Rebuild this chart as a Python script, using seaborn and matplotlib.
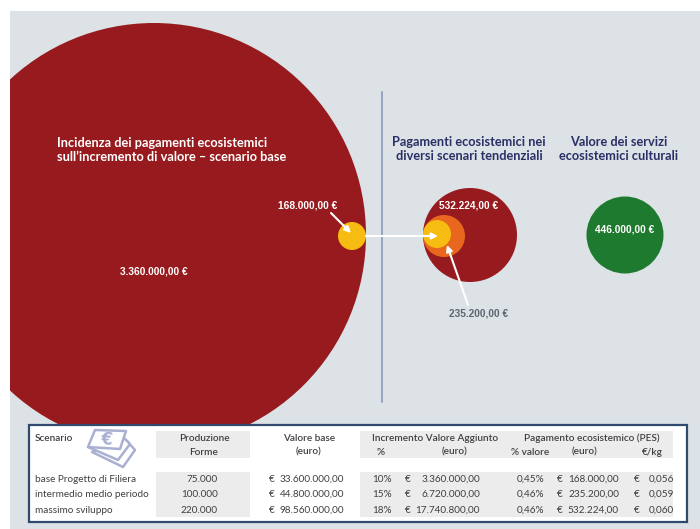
import matplotlib
matplotlib.use('Agg')
import matplotlib.pyplot as plt
import matplotlib.patches as mpatches
import pandas as pd
import seaborn as sns

# valori dei cerchi
circle_names = ['incremento base', 'scenario massimo', 'scenario medio', 'scenario base', 'PES base', 'servizi culturali']
circle_values = [3360000.00, 532224.00, 235200.00, 168000.00, 168000.00, 446000.00]
circle_colors = ['#971b1e', '#971b1e', '#e8661d', '#f7bc12', '#f7bc12', '#1e7a2e']

# tabella
scenarios = ['base Progetto di Filiera', 'intermedio medio periodo', 'massimo sviluppo']
produzione = ['75.000', '100.000', '220.000']
valore_base = ['33.600.000,00', '44.800.000,00', '98.560.000,00']
incr_pct = ['10%', '15%', '18%']
incr_euro = ['3.360.000,00', '6.720.000,00', '17.740.800,00']
pes_pct = ['0,45%', '0,46%', '0,46%']
pes_euro = ['168.000,00', '235.200,00', '532.224,00']
pes_kg = ['0,056', '0,059', '0,060']

# layout in pixel
cx = [154, 470, 444, 437, 352, 625]
cy = [235, 235, 236, 234, 236, 235]
radii = [212, 47, 21, 14, 14, 38.5]

BG = '#dce2e6'
NAVY = '#2a2f66'
TABLE_FONT = 'Lato'
TITLE_FONT = 'Lato'
NUM_FONT = 'Liberation Sans'
NUM_SIZE = 7.3
TITLE_SIZE = 9.2

sns.set_theme(style='white')
fig = plt.figure(figsize=(7, 5.29), dpi=100)
ax = fig.add_axes([10 / 700, 0, 690 / 700, 518 / 529])
ax.add_patch(mpatches.Rectangle((10, 11), 690, 518, fc=BG, ec='none', zorder=0))

df = pd.DataFrame({'name': circle_names, 'value': circle_values, 'x': cx, 'y': cy,
                   's': [(2 * r * 72 / 100) ** 2 for r in radii]})
sns.scatterplot(data=df, x='x', y='y', hue='name', palette=dict(zip(circle_names, circle_colors)),
                size='name', sizes=dict(zip(circle_names, df['s'])), linewidth=0,
                legend=False, ax=ax, zorder=2)
ax.set_xlim(10, 700)
ax.set_ylim(529, 11)
ax.axis('off')

ax.plot([382, 382], [92, 402], color='#8f9fbe', lw=1.3, zorder=1)

# titoli
ax.text(57, 150, 'Incidenza dei pagamenti ecosistemici\nsull\u2019incremento di valore \u2013 scenario base',
        color='white', fontsize=TITLE_SIZE, fontweight='bold', family=TITLE_FONT, va='center', linespacing=1.2, zorder=5)
ax.text(469, 149, 'Pagamenti ecosistemici nei\ndiversi scenari tendenziali', color=NAVY, fontsize=TITLE_SIZE,
        fontweight='bold', family=TITLE_FONT, ha='center', va='center', linespacing=1.15, zorder=5)
ax.text(619, 149, 'Valore dei servizi\necosistemici culturali', color=NAVY, fontsize=TITLE_SIZE,
        fontweight='bold', family=TITLE_FONT, ha='center', va='center', linespacing=1.15, zorder=5)


def euro(v):
    return f'{v:,.2f} \u20ac'.replace(',', 'X').replace('.', ',').replace('X', '.')


def num(x, y, v, color='white'):
    ax.text(x, y, euro(v), color=color, fontsize=NUM_SIZE, fontweight='bold', family=NUM_FONT,
            ha='center', va='center', zorder=5)


num(154, 272, circle_values[0])
num(308, 205, circle_values[4])
num(469, 206, circle_values[1])
num(479, 313, circle_values[2], '#5d6670')
num(625, 230, circle_values[5])

# frecce
for a, b in [((366, 236), (438, 236)), ((331, 213), (351, 233)), ((468, 305), (447, 245))]:
    ax.annotate('', xy=b, xytext=a, zorder=6,
                arrowprops=dict(arrowstyle='-|>', color='white', lw=1.5, mutation_scale=9, shrinkA=0, shrinkB=0))

# riquadro tabella
ax.add_patch(mpatches.Rectangle((29, 425), 658, 97, fc='white', ec='#2f4a6e', lw=1.6, zorder=7))
GRAY = '#ececec'
for x0, x1, y0, y1 in [(156, 250, 431, 458), (360, 510, 431, 458), (510, 673, 431, 458),
                       (156, 250, 472, 517), (360, 510, 472, 517), (510, 673, 472, 517)]:
    ax.add_patch(mpatches.Rectangle((x0, y0), x1 - x0, y1 - y0, fc=GRAY, ec='none', zorder=8))

# icona banconote
ICON = '#aab0d2'
for pts in [[(92, 452), (123, 467), (135, 450), (126, 440)],
            [(88, 447), (118, 460), (130, 444), (122, 436)],
            [(95, 430), (126, 431), (120, 449), (88, 447)]]:
    ax.add_patch(mpatches.Polygon(pts, closed=True, fc='white', ec=ICON, lw=1.8, zorder=9, joinstyle='round'))
ax.text(107, 440, '\u20ac', color=ICON, fontsize=12, fontweight='bold', ha='center', va='center', zorder=10, rotation=-5)

TXT = '#404040'


def cell(x, y, s, ha='left', weight='normal'):
    # y e' la linea di base, cosi' le cifre restano allineate
    ax.text(x, y + 3, s, color=TXT, fontsize=7.2, family=TABLE_FONT, ha=ha, va='baseline', fontweight=weight, zorder=11)


HEAD = 'semibold'
cell(35, 438, 'Scenario', weight=HEAD)
cell(204, 438, 'Produzione', 'center', HEAD)
cell(204, 452, 'Forme', 'center', HEAD)
cell(309, 438, 'Valore base', 'center', HEAD)
cell(309, 452, '(euro)', 'center', HEAD)
cell(435, 438, 'Incremento Valore Aggiunto', 'center', HEAD)
cell(381, 452, '%', 'center', HEAD)
cell(455, 452, '(euro)', 'center', HEAD)
cell(592, 438, 'Pagamento ecosistemico (PES)', 'center', HEAD)
cell(530, 452, '% valore', 'center', HEAD)
cell(584, 452, '(euro)', 'center', HEAD)
cell(652, 452, '\u20ac/kg', 'center', HEAD)

for i, y in enumerate([479, 494, 510]):
    cell(35, y, scenarios[i])
    cell(218, y, produzione[i], 'right')
    cell(269, y, '\u20ac')
    cell(344, y, valore_base[i], 'right')
    cell(372, y, incr_pct[i])
    cell(405, y, '\u20ac')
    cell(480, y, incr_euro[i], 'right')
    cell(517, y, pes_pct[i])
    cell(557, y, '\u20ac')
    cell(619, y, pes_euro[i], 'right')
    cell(634, y, '\u20ac')
    cell(674, y, pes_kg[i], 'right')

fig.savefig('out.png', dpi=100, facecolor='white')
